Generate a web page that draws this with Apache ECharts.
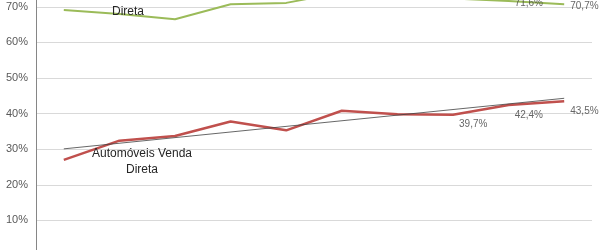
<!DOCTYPE html>
<html>
<head>
<meta charset="utf-8">
<script src="https://cdn.jsdelivr.net/npm/echarts@6/dist/echarts.min.js"></script>
<style>
html,body{margin:0;padding:0;background:#fff;}
#wrap{width:600px;height:250px;overflow:hidden;position:relative;}
#c{width:600px;height:320px;position:absolute;left:0;top:-40px;}
</style>
</head>
<body>
<div id="wrap"><div id="c"></div></div>
<script>
// Categories (axis labels are outside the visible crop)
var categories = ['1','2','3','4','5','6','7','8','9','10'];
// Automóveis Venda Direta (%)
var autoVendaDireta = [27.0, 32.4, 33.7, 37.8, 35.3, 40.8, 39.8, 39.7, 42.4, 43.5];
// Upper series (only "Direta" visible) (%)
var upperDireta = [69.1, 68.0, 66.5, 70.7, 71.1, 74.0, 74.5, 72.3, 71.6, 70.7];
// Linear trend line endpoints (%)
var trendStart = 30.1;
var trendEnd = 44.3;
// Y tick labels
var yTicks = [0, 10, 20, 30, 40, 50, 60, 70, 80];
// Which points carry visible value labels
var autoLabelIdx = [7, 8, 9];
var upperLabelIdx = [8, 9];

function fmt(v){ return v.toFixed(1).replace('.', ',') + '%'; }

var trendData = categories.map(function(c, i){
  if (i === 0) return trendStart;
  if (i === categories.length - 1) return trendEnd;
  return null;
});

var OFF = 40; // vertical offset of inner canvas
var chart = echarts.init(document.getElementById('c'), null, {renderer: 'canvas'});

function labelSeries(name, values, idxs, offset){
  return {
    name: name + ' labels',
    type: 'scatter',
    data: values.map(function(v, i){ return idxs.indexOf(i) >= 0 ? v : null; }),
    symbolSize: 0.1,
    itemStyle: {color: 'rgba(0,0,0,0)'},
    label: {
      show: true, position: 'right', distance: 6, offset: offset,
      formatter: function(p){ return fmt(p.value); },
      color: '#404040', fontSize: 10, fontFamily: 'Liberation Sans'
    },
    silent: true,
    z: 6
  };
}

chart.setOption({
  animation: false,
  backgroundColor: '#ffffff',
  grid: {left: 36, width: 556, top: OFF - 28.8, height: 284.8, outerBoundsMode: 'none', containLabel: false},
  xAxis: {
    type: 'category',
    data: categories,
    boundaryGap: true,
    axisLine: {show: true, lineStyle: {color: '#868686'}},
    axisTick: {show: false},
    axisLabel: {show: false}
  },
  yAxis: {
    type: 'value',
    min: yTicks[0],
    max: yTicks[yTicks.length - 1],
    interval: 10,
    axisLine: {show: true, lineStyle: {color: '#868686', width: 1}},
    axisTick: {show: false},
    axisLabel: {
      formatter: function(v){ return v + '%'; },
      color: '#595959', fontSize: 11, fontFamily: 'Liberation Sans', margin: 8
    },
    splitLine: {show: true, lineStyle: {color: '#d9d9d9', width: 1}}
  },
  series: [
    {
      name: 'Upper Direta',
      type: 'line',
      data: upperDireta,
      symbol: 'none',
      lineStyle: {color: '#9BBB59', width: 2},
      itemStyle: {color: '#9BBB59'},
      z: 2
    },
    {
      name: 'Automóveis Venda Direta',
      type: 'line',
      data: autoVendaDireta,
      symbol: 'none',
      lineStyle: {color: '#C0504D', width: 2.5},
      itemStyle: {color: '#C0504D'},
      z: 3
    },
    {
      name: 'Linear trend',
      type: 'line',
      data: trendData,
      connectNulls: true,
      symbol: 'none',
      lineStyle: {color: '#404040', width: 0.8},
      z: 4
    },
    labelSeries('Upper Direta', upperDireta, upperLabelIdx, [0, 2]),
    labelSeries('Automóveis Venda Direta', autoVendaDireta, autoLabelIdx, [0, 10])
  ],
  graphic: [
    {type: 'text', x: 142, y: OFF + 162, z: 10,
     style: {text: 'Automóveis Venda\nDireta', align: 'center', verticalAlign: 'middle',
       fill: '#262626', font: '12px "Liberation Sans"', lineHeight: 16}},
    {type: 'text', x: 128, y: OFF + 12, z: 10,
     style: {text: 'Direta', align: 'center', verticalAlign: 'middle',
       fill: '#262626', font: '12px "Liberation Sans"'}}
  ]
});
</script>
</body>
</html>
